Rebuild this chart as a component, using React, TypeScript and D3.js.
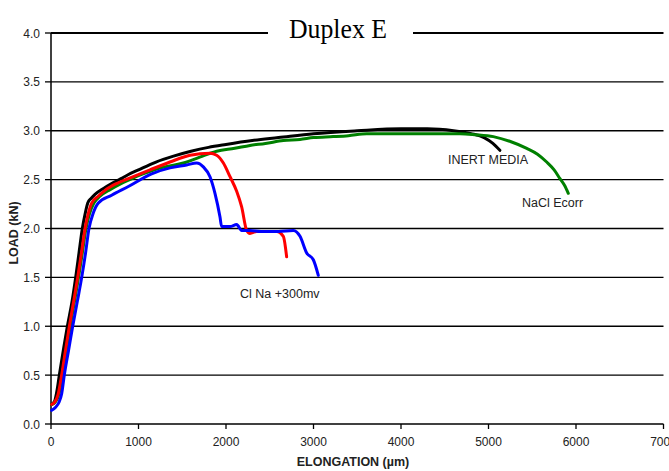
import React from 'react';
import * as d3 from 'd3';

// elongation (µm) / load (kN)
const inertX = [8, 40, 70, 95, 140, 187, 240, 282, 320, 358, 390, 420, 460, 503, 600, 693, 800, 880, 1000, 1200, 1400, 1600, 1800, 2000, 2300, 2600, 3000, 3500, 4000, 4300, 4600, 4800, 4950, 5050, 5130];
const inertY = [0.2, 0.23, 0.35, 0.5, 0.75, 1.0, 1.25, 1.5, 1.75, 2.0, 2.15, 2.26, 2.31, 2.35, 2.41, 2.46, 2.51, 2.55, 2.6, 2.68, 2.74, 2.79, 2.83, 2.86, 2.9, 2.93, 2.97, 3.0, 3.02, 3.02, 3.0, 2.97, 2.93, 2.87, 2.8];

const naclX = [8, 45, 90, 130, 175, 220, 268, 315, 358, 400, 440, 490, 560, 680, 800, 900, 1000, 1150, 1300, 1512, 1700, 1893, 2100, 2274, 2450, 2655, 2846, 3000, 3225, 3400, 3608, 4000, 4400, 4674, 4850, 5055, 5250, 5437, 5560, 5665, 5750, 5817, 5870, 5912];
const naclY = [0.2, 0.22, 0.3, 0.5, 0.75, 1.0, 1.25, 1.5, 1.75, 2.0, 2.15, 2.26, 2.33, 2.4, 2.46, 2.5, 2.54, 2.59, 2.63, 2.67, 2.73, 2.79, 2.82, 2.85, 2.87, 2.9, 2.91, 2.93, 2.94, 2.95, 2.97, 2.97, 2.97, 2.97, 2.96, 2.94, 2.89, 2.82, 2.76, 2.68, 2.6, 2.51, 2.44, 2.36];

const redX = [8, 40, 80, 122, 165, 210, 258, 305, 348, 389, 425, 465, 540, 617, 750, 884, 1131, 1360, 1589, 1817, 1893, 1970, 2046, 2122, 2179, 2236, 2274, 2350, 2450, 2579, 2655, 2693];
const redY = [0.2, 0.22, 0.3, 0.5, 0.75, 1.0, 1.25, 1.5, 1.75, 2.0, 2.15, 2.26, 2.33, 2.39, 2.46, 2.51, 2.6, 2.68, 2.75, 2.77, 2.75, 2.67, 2.53, 2.38, 2.22, 1.98, 1.95, 1.97, 1.97, 1.97, 1.92, 1.71];

const blueX = [8, 50, 90, 122, 152, 200, 248, 300, 351, 395, 434, 480, 541, 693, 884, 1150, 1360, 1550, 1665, 1741, 1817, 1874, 1931, 1950, 2046, 2122, 2179, 2274, 2400, 2600, 2770, 2846, 2922, 2998, 3055];
const blueY = [0.14, 0.17, 0.22, 0.31, 0.5, 0.75, 1.0, 1.25, 1.5, 1.75, 2.0, 2.15, 2.26, 2.34, 2.43, 2.56, 2.62, 2.65, 2.67, 2.63, 2.53, 2.36, 2.12, 2.02, 2.02, 2.04, 1.98, 1.98, 1.97, 1.97, 1.98, 1.92, 1.75, 1.68, 1.52];

const seriesNames = ['INERT MEDIA', 'NaCl Ecorr', 'NaCl red', 'Cl Na +300mv'];
const seriesColors = ['#000000', '#008000', '#ff0000', '#0000ff'];

const xTicks = [0, 1000, 2000, 3000, 4000, 5000, 6000, 7000];
const yTicks = [0, 0.5, 1, 1.5, 2, 2.5, 3, 3.5, 4];

const labelTexts = ['INERT MEDIA', 'NaCl Ecorr', 'Cl Na +300mv'];
const labelX = [4537, 5383, 2160];
const labelY = [2.66, 2.22, 1.29];

const W = 669;
const H = 471;
const left = 51;
const right = 663.5;
const top = 33;
const bottom = 424;

export default function App() {
  const x = d3.scaleLinear().domain([0, 7000]).range([left, right]);
  const y = d3.scaleLinear().domain([0, 4]).range([bottom, top]);
  const fmt = d3.format('.1f');

  const all = [
    [inertX, inertY],
    [naclX, naclY],
    [redX, redY],
    [blueX, blueY],
  ];
  const line = d3
    .line<[number, number]>()
    .x((d) => x(d[0]))
    .y((d) => y(d[1]))
    .curve(d3.curveMonotoneX);

  const font = 'Arial, "Liberation Sans", sans-serif';

  return (
    <svg width={W} height={H} style={{ position: 'absolute', left: 0, top: 0, background: '#fff' }}>
      {yTicks.map((t) => (
        <g key={t}>
          <line x1={left} x2={right} y1={y(t)} y2={y(t)} stroke="#000" strokeWidth={t === 4 ? 2 : 1.3} />
          <line x1={left - 6} x2={left} y1={y(t)} y2={y(t)} stroke="#000" strokeWidth={1.3} />
          <text x={40} y={y(t) + 4.5} textAnchor="end" fontFamily={font} fontSize={12} fill="#222">
            {fmt(t)}
          </text>
        </g>
      ))}
      {xTicks.map((t) => (
        <g key={t}>
          <line x1={x(t)} x2={x(t)} y1={bottom} y2={bottom + 5} stroke="#000" strokeWidth={1.3} />
          <text x={x(t)} y={446} textAnchor="middle" fontFamily={font} fontSize={12} fill="#222">
            {t}
          </text>
        </g>
      ))}
      <line x1={left} x2={left} y1={top} y2={bottom} stroke="#000" strokeWidth={1.5} />
      {/* title sits on a white box that breaks the top gridline */}
      <rect x={268} y={20} width={145} height={24} fill="#fff" />
      <text
        x={338}
        y={38}
        textAnchor="middle"
        fontFamily='"Liberation Serif", "Times New Roman", serif'
        fontSize={28}
        textLength={98}
        lengthAdjust="spacingAndGlyphs"
        fill="#000"
      >
        Duplex E
      </text>
      {all.map(([xs, ys], i) => (
        <path
          key={seriesNames[i]}
          d={line(xs.map((v, j) => [v, ys[j]]) as [number, number][]) || ''}
          fill="none"
          stroke={seriesColors[i]}
          strokeWidth={3}
          strokeLinejoin="round"
          strokeLinecap="round"
        />
      ))}
      {labelTexts.map((s, i) => (
        <text key={s} x={x(labelX[i])} y={y(labelY[i])} fontFamily={font} fontSize={12.5} fill="#222">
          {s}
        </text>
      ))}
      <text
        transform={`translate(18,${233}) rotate(-90)`}
        textAnchor="middle"
        fontFamily={font}
        fontWeight="bold"
        fontSize={12.5}
        fill="#222"
      >
        LOAD (kN)
      </text>
      <text x={353} y={466} textAnchor="middle" fontFamily={font} fontWeight="bold" fontSize={12.5} fill="#222">
        ELONGATION (µm)
      </text>
    </svg>
  );
}
